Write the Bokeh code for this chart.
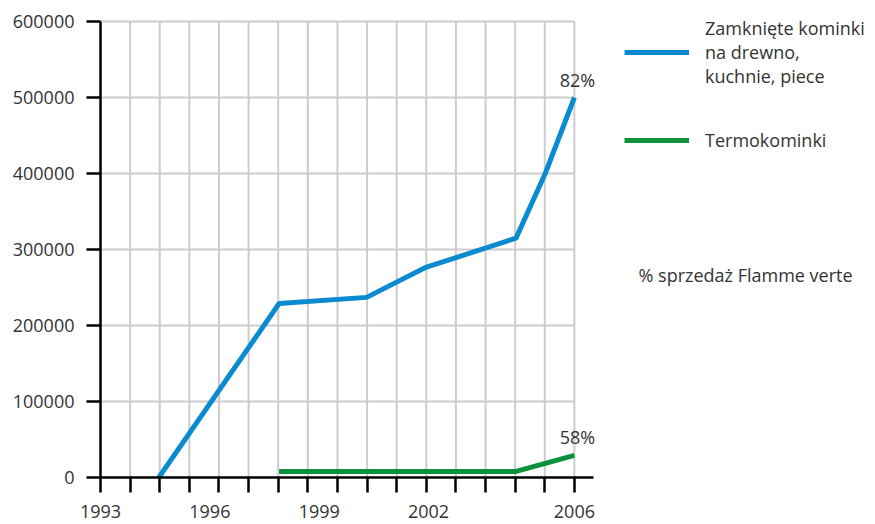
import numpy as np
from bokeh.plotting import figure
from bokeh.models import (Range1d, FixedTicker, Legend, LegendItem, Label,
                          ColumnDataSource)
from bokeh.core.properties import value
from bokeh.embed import file_html
from bokeh.resources import INLINE

# Sales data (units sold per year)
closed_years = [1994.6, 1997.9, 2000.3, 2001.9, 2004.4, 2005.2, 2006.0]
closed_units = [0, 229000, 237000, 276000, 315000, 400000, 500000]

thermo_years = [1997.9, 2004.4, 2006.0]
thermo_units = [8000, 8000, 29000]

# Flamme verte share in the final year
share_labels = ["82%", "58%"]

year_labels = [1993, 1996, 1999, 2002, 2006]
y_ticks = [0, 100000, 200000, 300000, 400000, 500000, 600000]

series_names = ["Zamknięte kominki\nna drewno,\nkuchnie, piece", "Termokominki"]
note_text = "% sprzedaż Flamme verte"

FONT = "Open Sans"
TEXT = "#333333"
BLUE = "#0a8bd0"
GREEN = "#0a913c"
GRID = "#cccccc"

x_start, x_stop = year_labels[0], year_labels[-1]
grid_x = list(np.linspace(x_start, x_stop, 17))
y_top = y_ticks[-1]

# frame spans the whole canvas height above the x axis; the axis itself stops at 600000
p = figure(width=875, height=524, output_backend="svg", toolbar_location=None,
           x_range=Range1d(1993, 2014.26), y_range=Range1d(0, y_top * 477 / 456),
           min_border_left=100, min_border_right=0, min_border_top=0,
           min_border_bottom=47)
p.outline_line_color = None
p.xgrid.visible = False
p.ygrid.visible = False
p.background_fill_color = None
p.border_fill_color = "white"

# grid drawn only across the data area
p.segment(x0=grid_x, x1=grid_x, y0=[0] * len(grid_x), y1=[y_top] * len(grid_x),
          line_color=GRID, line_width=2)
p.segment(x0=[x_start] * len(y_ticks), x1=[x_stop] * len(y_ticks), y0=y_ticks, y1=y_ticks,
          line_color=GRID, line_width=2)

r_closed = p.line(closed_years, closed_units, line_color=BLUE, line_width=5)
r_thermo = p.line(thermo_years, thermo_units, line_color=GREEN, line_width=5)

# share labels at the final point of each series
src = ColumnDataSource(dict(x=[closed_years[-1], thermo_years[-1]],
                            y=[closed_units[-1], thermo_units[-1]],
                            t=share_labels))
p.text(x="x", y="y", text="t", source=src, text_font=value(FONT),
       text_font_size="18px", text_color=TEXT, text_align="center",
       text_baseline="bottom", x_offset=3, y_offset=-6)

# axes
xa = p.xaxis[0]
xa.ticker = FixedTicker(ticks=year_labels, minor_ticks=grid_x)
xa.bounds = (1993, 2006.52)
xa.axis_line_color = "black"
xa.axis_line_width = 2.5
xa.major_tick_line_color = None
xa.major_tick_out = 15
xa.major_tick_in = 0
xa.minor_tick_line_color = "black"
xa.minor_tick_line_width = 2.5
xa.minor_tick_out = 15
xa.minor_tick_in = 0
xa.major_label_standoff = 12
xa.major_label_text_font = FONT
xa.major_label_text_font_size = "18px"
xa.major_label_text_color = TEXT

ya = p.yaxis[0]
ya.ticker = FixedTicker(ticks=y_ticks)
ya.bounds = (0, y_top)
ya.axis_line_color = "black"
ya.axis_line_width = 2.5
ya.major_tick_line_color = "black"
ya.major_tick_line_width = 2.5
ya.major_tick_out = 14
ya.major_tick_in = 0
ya.minor_tick_line_color = None
ya.major_label_standoff = 12
ya.major_label_text_font = FONT
ya.major_label_text_font_size = "18px"
ya.major_label_text_color = TEXT
ya.formatter.use_scientific = False

legend = Legend(items=[LegendItem(label=series_names[0], renderers=[r_closed]),
                       LegendItem(label=series_names[1], renderers=[r_thermo])],
                location=(524, 325), orientation="vertical")
legend.border_line_color = None
legend.background_fill_alpha = 0
legend.padding = 0
legend.margin = 0
legend.spacing = 40
legend.glyph_width = 65
legend.glyph_height = 20
legend.label_standoff = 16
legend.label_text_font = FONT
legend.label_text_font_size = "18px"
legend.label_text_color = TEXT
legend.label_text_line_height = 1.4
p.add_layout(legend)

p.add_layout(Label(x=538, y=203, x_units="screen", y_units="screen", text=note_text,
                   text_font=FONT, text_font_size="18px", text_color=TEXT,
                   text_baseline="middle"))

open("out.html", "w").write(file_html(p, INLINE))
